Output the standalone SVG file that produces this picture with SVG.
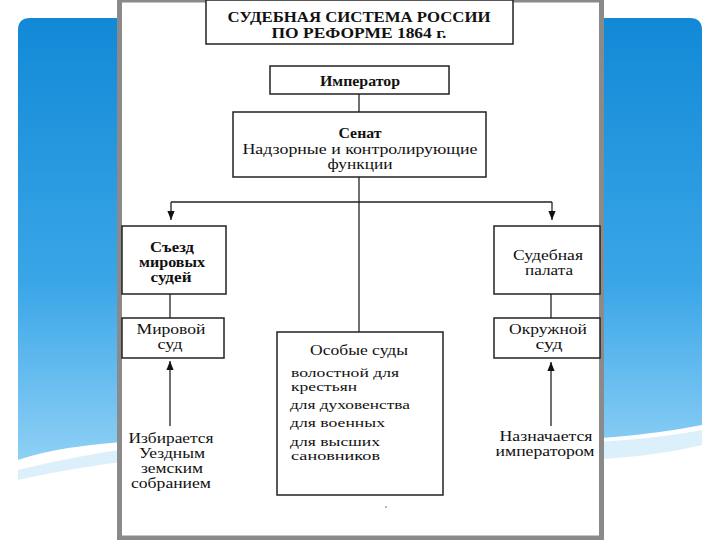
<svg xmlns="http://www.w3.org/2000/svg" width="720" height="540" viewBox="0 0 720 540">
<defs>
<linearGradient id="bg" x1="0" y1="0" x2="0" y2="1"><stop offset="0" stop-color="#1289d6"/><stop offset="0.6" stop-color="#3aa6e8"/><stop offset="1" stop-color="#8ed0f5"/></linearGradient>
<marker id="ar" viewBox="0 0 10 10" refX="10" refY="5" markerWidth="7" markerHeight="7" orient="auto-start-reverse"><path d="M0,1 L10,5 L0,9 Z" fill="#111"/></marker>
<style>
.b{fill:#fff;stroke:#222;stroke-width:1.5}
text{font-family:"Liberation Serif","DejaVu Serif",serif;font-size:15px;fill:#111}
.t{text-anchor:middle}
.s{font-size:13px}
.c{stroke:#222;stroke-width:1.3;fill:none}
</style>
</defs>
<rect width="720" height="540" fill="#fff"/>
<path d="M30,18 H690 Q702,18 702,30 V425 Q600,445 460,440 Q300,432 150,440 Q60,445 18,460 V30 Q18,18 30,18 Z" fill="url(#bg)"/>
<path d="M18,470 Q200,425 420,440 Q600,450 702,430 V445 Q600,470 420,455 Q200,440 18,480 Z" fill="#cdeafb" opacity="0.7"/>
<rect x="119.5" y="0" width="482" height="538" fill="#fff" stroke="#8a8a8a" stroke-width="5"/>
<g id="title"><rect class="b" x="206" y="0" width="307" height="44"/><text class="t" font-weight="bold" x="359" y="22" textLength="263" lengthAdjust="spacingAndGlyphs">СУДЕБНАЯ СИСТЕМА РОССИИ</text><text class="t" font-weight="bold" x="359" y="38" textLength="175" lengthAdjust="spacingAndGlyphs">ПО РЕФОРМЕ 1864 г.</text></g>
<g id="connectors">
<line class="c" x1="359" y1="94" x2="359" y2="112"/>
<line class="c" x1="359" y1="177" x2="359" y2="332"/>
<line class="c" x1="171" y1="202" x2="552" y2="202"/>
<line class="c" x1="171" y1="202" x2="171" y2="220" marker-end="url(#ar)"/>
<line class="c" x1="552" y1="202" x2="552" y2="220" marker-end="url(#ar)"/>
<line class="c" x1="170" y1="294" x2="170" y2="318"/>
<line class="c" x1="551" y1="294" x2="551" y2="318"/>
<line class="c" x1="170" y1="426" x2="170" y2="361" marker-end="url(#ar)"/>
<line class="c" x1="551" y1="426" x2="551" y2="362" marker-end="url(#ar)"/>
</g>
<g id="emperor"><rect class="b" x="270" y="66" width="179" height="28"/><text class="t" font-weight="bold" x="360" y="86" textLength="80" lengthAdjust="spacingAndGlyphs">Император</text></g>
<g id="senate"><rect class="b" x="233" y="112" width="253" height="65"/><text class="t" font-weight="bold" x="360" y="138" textLength="43" lengthAdjust="spacingAndGlyphs">Сенат</text><text class="t" x="360" y="154" textLength="235" lengthAdjust="spacingAndGlyphs">Надзорные и контролирующие</text><text class="t" x="360" y="169" textLength="65" lengthAdjust="spacingAndGlyphs">функции</text></g>
<g id="congress"><rect class="b" x="122" y="226" width="104" height="68"/><text class="t" font-weight="bold" x="172" y="252" textLength="44" lengthAdjust="spacingAndGlyphs">Съезд</text><text class="t" font-weight="bold" x="172" y="267" textLength="66" lengthAdjust="spacingAndGlyphs">мировых</text><text class="t" font-weight="bold" x="171" y="282" textLength="41" lengthAdjust="spacingAndGlyphs">судей</text></g>
<g id="mirovoy"><rect class="b" x="122" y="318" width="102" height="40"/><text class="t" x="171" y="334" textLength="69" lengthAdjust="spacingAndGlyphs">Мировой</text><text class="t" x="170" y="349" textLength="25" lengthAdjust="spacingAndGlyphs">суд</text></g>
<g id="palata"><rect class="b" x="494" y="226" width="106" height="68"/><text class="t" x="548" y="260" textLength="70" lengthAdjust="spacingAndGlyphs">Судебная</text><text class="t" x="549" y="275" textLength="48" lengthAdjust="spacingAndGlyphs">палата</text></g>
<g id="okruzhnoy"><rect class="b" x="494" y="318" width="106" height="40"/><text class="t" x="548" y="334" textLength="78" lengthAdjust="spacingAndGlyphs">Окружной</text><text class="t" x="549" y="349" textLength="27" lengthAdjust="spacingAndGlyphs">суд</text></g>
<g id="special"><rect class="b" x="277" y="332" width="166" height="163"/><text class="t" x="359" y="355" textLength="98" lengthAdjust="spacingAndGlyphs">Особые суды</text>
<text class="s" x="291" y="377" textLength="108" lengthAdjust="spacingAndGlyphs">волостной для</text><text class="s" x="291" y="391" textLength="66" lengthAdjust="spacingAndGlyphs">крестьян</text><text class="s" x="290" y="409" textLength="120" lengthAdjust="spacingAndGlyphs">для духовенства</text><text class="s" x="290" y="427" textLength="95" lengthAdjust="spacingAndGlyphs">для военных</text><text class="s" x="290" y="446" textLength="90" lengthAdjust="spacingAndGlyphs">для высших</text><text class="s" x="291" y="460" textLength="89" lengthAdjust="spacingAndGlyphs">сановников</text></g>
<g id="lbl-left"><text class="t" x="171" y="443" textLength="85" lengthAdjust="spacingAndGlyphs">Избирается</text><text class="t" x="172" y="458" textLength="66" lengthAdjust="spacingAndGlyphs">Уездным</text><text class="t" x="172" y="473" textLength="62" lengthAdjust="spacingAndGlyphs">земским</text><text class="t" x="171" y="488" textLength="80" lengthAdjust="spacingAndGlyphs">собранием</text></g>
<g id="lbl-right"><text class="t" x="546" y="441" textLength="93" lengthAdjust="spacingAndGlyphs">Назначается</text><text class="t" x="545" y="456" textLength="99" lengthAdjust="spacingAndGlyphs">императором</text></g>
<circle cx="386" cy="507" r="0.8" fill="#555"/>
</svg>
